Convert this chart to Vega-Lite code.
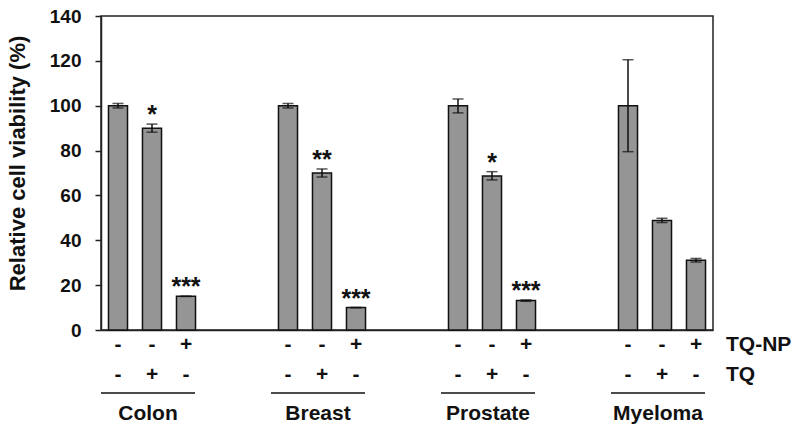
{
  "$schema": "https://vega.github.io/schema/vega-lite/v6.json",
  "autosize": {"type": "none"},
  "width": 612,
  "height": 314,
  "padding": {"left": 101, "top": 16, "right": 87, "bottom": 102},
  "background": "white",
  "config": {
    "view": {"stroke": "#222222", "strokeWidth": 1.5},
    "font": "Liberation Sans",
    "axis": {"grid": false}
  },
  "data": {
    "values": [
      {"group": "Colon", "slot": "Colon-1", "value": 100, "lo": 99, "hi": 101, "tqnp": "-", "tq": "-", "sig": ""},
      {"group": "Colon", "slot": "Colon-2", "value": 90, "lo": 88.2, "hi": 91.8, "tqnp": "-", "tq": "+", "sig": "*"},
      {"group": "Colon", "slot": "Colon-3", "value": 15, "lo": 15, "hi": 15, "tqnp": "+", "tq": "-", "sig": "***"},
      {"group": "Breast", "slot": "Breast-1", "value": 100, "lo": 99, "hi": 101, "tqnp": "-", "tq": "-", "sig": ""},
      {"group": "Breast", "slot": "Breast-2", "value": 70, "lo": 68.2, "hi": 71.8, "tqnp": "-", "tq": "+", "sig": "**"},
      {"group": "Breast", "slot": "Breast-3", "value": 10, "lo": 10, "hi": 10, "tqnp": "+", "tq": "-", "sig": "***"},
      {"group": "Prostate", "slot": "Prostate-1", "value": 100, "lo": 96.8, "hi": 103, "tqnp": "-", "tq": "-", "sig": ""},
      {"group": "Prostate", "slot": "Prostate-2", "value": 68.7, "lo": 66.9, "hi": 70.6, "tqnp": "-", "tq": "+", "sig": "*"},
      {"group": "Prostate", "slot": "Prostate-3", "value": 13.1, "lo": 12.8, "hi": 13.4, "tqnp": "+", "tq": "-", "sig": "***"},
      {"group": "Myeloma", "slot": "Myeloma-1", "value": 100, "lo": 79.5, "hi": 120.5, "tqnp": "-", "tq": "-", "sig": ""},
      {"group": "Myeloma", "slot": "Myeloma-2", "value": 48.8, "lo": 47.9, "hi": 49.8, "tqnp": "-", "tq": "+", "sig": ""},
      {"group": "Myeloma", "slot": "Myeloma-3", "value": 31.1, "lo": 30.3, "hi": 31.9, "tqnp": "+", "tq": "-", "sig": ""}
    ]
  },
  "encoding": {
    "x": {
      "field": "slot",
      "type": "nominal",
      "sort": null,
      "scale": {
        "domain": ["Colon-1", "Colon-2", "Colon-3", "g1a", "g1b", "Breast-1", "Breast-2", "Breast-3", "g2a", "g2b", "Prostate-1", "Prostate-2", "Prostate-3", "g3a", "g3b", "Myeloma-1", "Myeloma-2", "Myeloma-3"],
        "paddingInner": 0.44,
        "paddingOuter": 0.22
      },
      "axis": {"labels": false, "ticks": false, "title": null, "domain": true, "domainColor": "#222222", "domainWidth": 1.5}
    }
  },
  "layer": [
    {
      "mark": {"type": "bar", "fill": "#959595", "stroke": "#111111", "strokeWidth": 1.5},
      "encoding": {
        "y": {
          "field": "value",
          "type": "quantitative",
          "scale": {"domain": [0, 140], "nice": false},
          "axis": {
            "values": [0, 20, 40, 60, 80, 100, 120, 140],
            "title": "Relative cell viability (%)",
            "titleFontSize": 22,
            "titleFontWeight": "bold",
            "titleColor": "#111111",
            "titleX": -84,
            "titleY": 147,
            "titleAngle": -90,
            "titleAlign": "center",
            "titleBaseline": "middle",
            "labelFontSize": 19,
            "labelFontWeight": "bold",
            "labelColor": "#111111",
            "labelPadding": 14,
            "tickSize": 6,
            "tickColor": "#222222",
            "tickWidth": 1.5,
            "domainColor": "#222222",
            "domainWidth": 1.5
          }
        }
      }
    },
    {
      "mark": {"type": "rule", "stroke": "#111111", "strokeWidth": 1.5},
      "encoding": {
        "y": {"field": "lo", "type": "quantitative"},
        "y2": {"field": "hi"}
      }
    },
    {
      "mark": {"type": "tick", "orient": "horizontal", "size": 11, "thickness": 1.5, "color": "#111111"},
      "encoding": {"y": {"field": "lo", "type": "quantitative"}}
    },
    {
      "mark": {"type": "tick", "orient": "horizontal", "size": 11, "thickness": 1.5, "color": "#111111"},
      "encoding": {"y": {"field": "hi", "type": "quantitative"}}
    },
    {
      "mark": {"type": "text", "fontSize": 25, "fontWeight": "bold", "baseline": "alphabetic", "dy": -1, "color": "#111111"},
      "encoding": {
        "y": {"field": "hi", "type": "quantitative"},
        "text": {"field": "sig"}
      }
    },
    {
      "mark": {"type": "text", "fontSize": 21, "fontWeight": "bold", "baseline": "middle", "color": "#111111"},
      "encoding": {
        "y": {"datum": -6.8},
        "text": {"field": "tqnp"}
      }
    },
    {
      "mark": {"type": "text", "fontSize": 21, "fontWeight": "bold", "baseline": "middle", "color": "#111111"},
      "encoding": {
        "y": {"datum": -20.2},
        "text": {"field": "tq"}
      }
    },
    {
      "transform": [{"filter": "datum.slot === 'Myeloma-3'"}],
      "mark": {"type": "text", "fontSize": 21, "fontWeight": "bold", "baseline": "middle", "align": "left", "dx": 30, "color": "#111111"},
      "encoding": {
        "y": {"datum": -6.8},
        "text": {"value": "TQ-NP"}
      }
    },
    {
      "transform": [{"filter": "datum.slot === 'Myeloma-3'"}],
      "mark": {"type": "text", "fontSize": 21, "fontWeight": "bold", "baseline": "middle", "align": "left", "dx": 30, "color": "#111111"},
      "encoding": {
        "y": {"datum": -20.2},
        "text": {"value": "TQ"}
      }
    },
    {
      "transform": [
        {"filter": "test(/-1$/, datum.slot)"},
        {"lookup": "group", "from": {"data": {"values": [
          {"group": "Colon", "last": "Colon-3", "mid": "Colon-2"},
          {"group": "Breast", "last": "Breast-3", "mid": "Breast-2"},
          {"group": "Prostate", "last": "Prostate-3", "mid": "Prostate-2"},
          {"group": "Myeloma", "last": "Myeloma-3", "mid": "Myeloma-2"}
        ]}, "key": "group", "fields": ["last", "mid"]}}
      ],
      "layer": [
        {
          "mark": {"type": "rule", "stroke": "#111111", "strokeWidth": 1.5, "xOffset": -17, "x2Offset": 9},
          "encoding": {
            "x2": {"field": "last"},
            "y": {"datum": -28.1}
          }
        },
        {
          "mark": {"type": "text", "fontSize": 21, "fontWeight": "bold", "baseline": "middle", "dx": -4, "color": "#111111"},
          "encoding": {
            "x": {"field": "mid", "type": "nominal"},
            "y": {"datum": -37.5},
            "text": {"field": "group"}
          }
        }
      ]
    }
  ]
}
